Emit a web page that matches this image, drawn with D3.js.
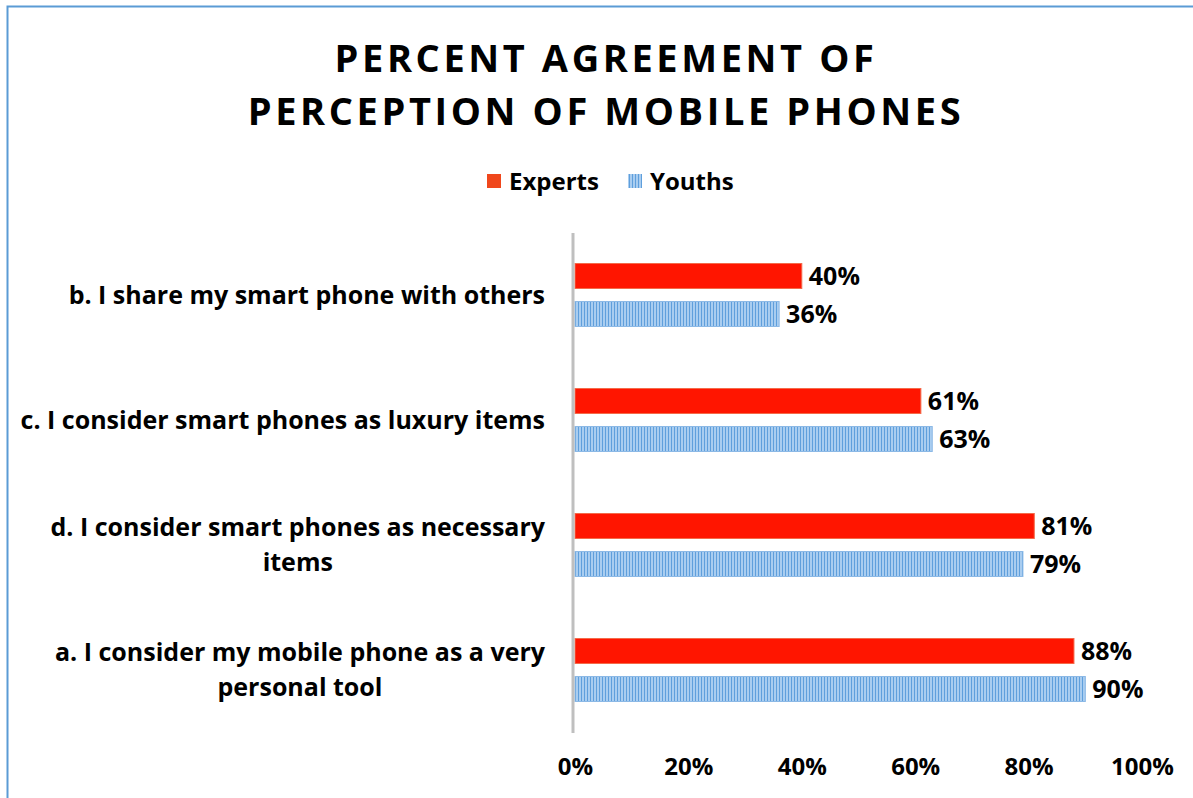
<!DOCTYPE html>
<html>
<head>
<meta charset="utf-8">
<script src="https://cdn.jsdelivr.net/npm/d3@7"></script>
<style>
  html, body { margin: 0; padding: 0; background: #fff; }
  svg { display: block; font-family: "Open Sans", "Noto Sans", sans-serif; }
</style>
</head>
<body>
<svg id="chart" width="1193" height="798"></svg>
<script>
// Survey statements, top to bottom
const categories = [
  ["b. I share my smart phone with others"],
  ["c. I consider smart phones as luxury items"],
  ["d. I consider smart phones as necessary", "items"],
  ["a. I consider my mobile phone as a very", "personal tool"]
];
const seriesNames = ["Experts", "Youths"];
const expertsValues = [0.40, 0.61, 0.81, 0.88];
const youthsValues = [0.36, 0.63, 0.79, 0.90];
const tickValues = [0, 0.2, 0.4, 0.6, 0.8, 1.0];
const titleLines = ["PERCENT AGREEMENT OF", "PERCEPTION OF MOBILE PHONES"];

const svg = d3.select("#chart");
const W = 1193, H = 798;

// Stripe pattern for the Youths bars
const defs = svg.append("defs");
const pat = defs.append("pattern")
  .attr("id", "stripes")
  .attr("patternUnits", "userSpaceOnUse")
  .attr("width", 3).attr("height", 10);
pat.append("rect").attr("width", 3).attr("height", 10).attr("fill", "#a9cdf0");
pat.append("rect").attr("x", 2).attr("width", 1).attr("height", 10).attr("fill", "#5f9fdc");

// Outer frame
svg.append("path")
  .attr("d", `M7.5,${H} L7.5,6.5 L${W},6.5`)
  .attr("fill", "none").attr("stroke", "#5b9bd5").attr("stroke-width", 2);

// Title
svg.append("g").selectAll("text").data(titleLines).join("text")
  .attr("x", 606).attr("y", (d, i) => 72 + i * 53)
  .attr("text-anchor", "middle")
  .attr("font-size", 38).attr("font-weight", 700)
  .attr("letter-spacing", 3.6)
  .attr("fill", "#000")
  .text(d => d);

// Legend
const legend = svg.append("g");
const legendItems = [
  { name: seriesNames[0], x: 487, fill: "#f0471c" },
  { name: seriesNames[1], x: 628, fill: "url(#stripes)" }
];
legendItems.forEach(it => {
  legend.append("rect").attr("x", it.x).attr("y", 174).attr("width", 14).attr("height", 14).attr("fill", it.fill);
  legend.append("text").attr("x", it.x + 22).attr("y", 190)
    .attr("font-size", 24).attr("font-weight", 700).attr("fill", "#000").text(it.name);
});

// Scales
const x = d3.scaleLinear().domain([0, 1]).range([575, 1142]);
const y = d3.scaleBand().domain(d3.range(categories.length)).range([233, 733]);
const ySub = d3.scaleBand().domain(seriesNames).range([0, 63]).paddingInner(0.342);

const groupOffset = y.bandwidth() / 2 - 32;

// Bars
const rows = categories.map((c, i) => ({ i, values: [expertsValues[i], youthsValues[i]] }));
const groups = svg.append("g").selectAll("g").data(rows).join("g")
  .attr("transform", d => `translate(0,${y(d.i) + groupOffset})`);

groups.selectAll("rect").data(d => d.values.map((v, k) => ({ v, s: seriesNames[k] }))).join("rect")
  .attr("x", x(0))
  .attr("y", d => ySub(d.s))
  .attr("width", d => x(d.v) - x(0))
  .attr("height", ySub.bandwidth())
  .attr("fill", d => d.s === "Experts" ? "#ff1500" : "url(#stripes)")
  .attr("stroke", d => d.s === "Experts" ? "#f46a4a" : "#8cb9e6")
  .attr("stroke-width", 1);

// Value labels
groups.selectAll("text").data(d => d.values.map((v, k) => ({ v, s: seriesNames[k] }))).join("text")
  .attr("x", d => x(d.v) + 7)
  .attr("y", d => ySub(d.s) + ySub.bandwidth() / 2 + 9)
  .attr("font-size", 25).attr("font-weight", 700).attr("fill", "#000")
  .text(d => d3.format(".0%")(d.v));

// Vertical axis line
svg.append("line")
  .attr("x1", 573).attr("x2", 573).attr("y1", 233).attr("y2", 733)
  .attr("stroke", "#bfbfbf").attr("stroke-width", 3);

// Category labels
const labelRight = 545;
const labels = svg.append("g");
categories.forEach((lines, i) => {
  const cy = y(i) + y.bandwidth() / 2;
  const t = labels.append("text")
    .attr("font-size", 25).attr("font-weight", 700).attr("fill", "#000");
  const lineH = 35;
  const top = cy - (lines.length - 1) * lineH / 2 + 8;
  lines.forEach((ln, k) => {
    t.append("tspan").attr("y", top + k * lineH).text(ln);
  });
  // Widest line sets the block; lines centred within it, block right-aligned
  let maxW = 0;
  t.selectAll("tspan").each(function () { maxW = Math.max(maxW, this.getComputedTextLength()); });
  const cx = labelRight - maxW / 2;
  t.attr("text-anchor", "middle");
  t.selectAll("tspan").attr("x", cx);
});

// X axis tick labels
const xAxis = d3.axisBottom(x).tickValues(tickValues).tickFormat(d3.format(".0%")).tickSize(0);
const axisG = svg.append("g").attr("transform", "translate(0,755)").call(xAxis);
axisG.select(".domain").remove();
axisG.selectAll("text")
  .attr("font-size", 24).attr("font-weight", 700).attr("fill", "#000")
  .attr("font-family", "'Open Sans', sans-serif");
</script>
</body>
</html>
